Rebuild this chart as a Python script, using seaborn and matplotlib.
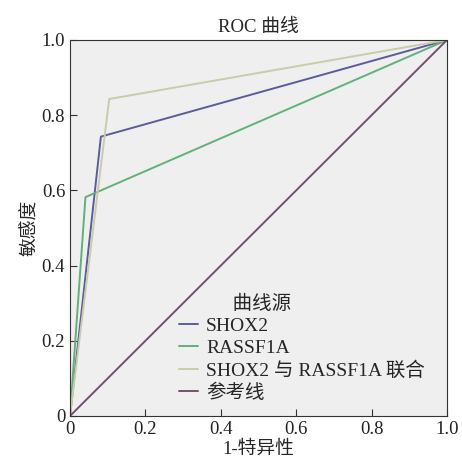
import pandas as pd
import matplotlib
matplotlib.use("Agg")
import matplotlib.pyplot as plt
import seaborn as sns

# ROC points
shox2_fpr = [0.0, 0.082, 1.0]
shox2_tpr = [0.0, 0.743, 1.0]
rassf1a_fpr = [0.0, 0.041, 1.0]
rassf1a_tpr = [0.0, 0.582, 1.0]
combined_fpr = [0.0, 0.104, 1.0]
combined_tpr = [0.0, 0.843, 1.0]
ref_fpr = [0.0, 1.0]
ref_tpr = [0.0, 1.0]

series_names = ["SHOX2", "RASSF1A", "SHOX2 与 RASSF1A 联合", "参考线"]
series_colors = ["#5c5c9c", "#62b07a", "#c9ccaa", "#74506e"]
tick_values = [0, 0.2, 0.4, 0.6, 0.8, 1.0]
tick_labels = ["0", "0.2", "0.4", "0.6", "0.8", "1.0"]

frames = []
for name, fpr, tpr in zip(series_names,
                          [shox2_fpr, rassf1a_fpr, combined_fpr, ref_fpr],
                          [shox2_tpr, rassf1a_tpr, combined_tpr, ref_tpr]):
    frames.append(pd.DataFrame({"fpr": fpr, "tpr": tpr, "曲线源": name}))
df = pd.concat(frames, ignore_index=True)

sns.set_style("ticks", {"axes.facecolor": "#efefef",
                        "xtick.direction": "in", "ytick.direction": "in"})
plt.rcParams["font.family"] = ["Liberation Serif", "Noto Sans CJK SC"]
plt.rcParams["axes.edgecolor"] = "#333333"

fig = plt.figure(figsize=(4.62, 4.66), dpi=100)
ax = fig.add_axes([0.1515, 0.1073, 0.8160, 0.8069])

sns.lineplot(data=df, x="fpr", y="tpr", hue="曲线源", hue_order=series_names,
             palette=dict(zip(series_names, series_colors)),
             sort=False, estimator=None, linewidth=1.4, ax=ax)

ax.set_xlim(0, 1)
ax.set_ylim(0, 1)
ax.set_xticks(tick_values)
ax.set_xticklabels(tick_labels)
ax.set_yticks(tick_values)
ax.set_yticklabels(tick_labels)
ax.tick_params(labelsize=13.5, length=5, color="#333333", labelcolor="#222222")
ax.set_xlabel("1-特异性", fontsize=13.5, labelpad=2)
ax.set_ylabel("敏感度", fontsize=13.5, labelpad=2)
ax.set_title("ROC 曲线", fontsize=13.5, pad=6)

leg = ax.legend(title="           曲线源", loc="lower left",
                bbox_to_anchor=(0.242, -0.01), alignment="left",
                frameon=False, fontsize=14, title_fontsize=14,
                handlelength=1.0, handletextpad=0.4, labelspacing=0.22)

fig.savefig("out.png", dpi=100)
